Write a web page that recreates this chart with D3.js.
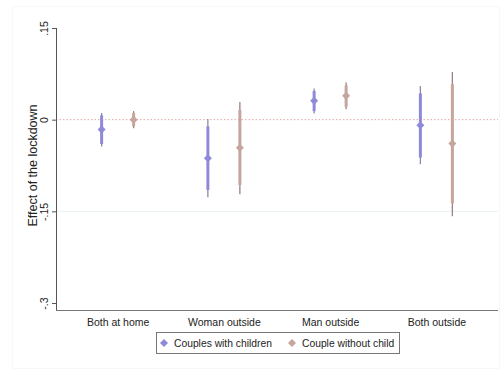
<!DOCTYPE html>
<html>
<head>
<meta charset="utf-8">
<script src="https://cdn.jsdelivr.net/npm/d3@7"></script>
<style>
  body { margin: 0; background: #fff; }
  text { font-family: 'Liberation Sans', Arial, sans-serif; }
</style>
</head>
<body>
<script>
const categories = ['Both at home', 'Woman outside', 'Man outside', 'Both outside']
const seriesNames = ['Couples with children', 'Couple without child']
const seriesColors = ['#8f89d9', '#c5a59c']
const ciColors = ['#8a8aa6', '#948580']

// point estimates
const withChildren = [-0.016, -0.063, 0.031, -0.009]
const withoutChild = [0.000, -0.046, 0.039, -0.039]
// 95% intervals (thin)
const withChildrenLo95 = [-0.044, -0.127, 0.010, -0.073]
const withChildrenHi95 = [0.011, 0.001, 0.051, 0.055]
const withoutChildLo95 = [-0.014, -0.122, 0.017, -0.158]
const withoutChildHi95 = [0.014, 0.029, 0.061, 0.078]
// 90% intervals (thick)
const withChildrenLo90 = [-0.040, -0.115, 0.014, -0.062]
const withChildrenHi90 = [0.007, -0.011, 0.047, 0.043]
const withoutChildLo90 = [-0.011, -0.107, 0.021, -0.137]
const withoutChildHi90 = [0.011, 0.016, 0.056, 0.058]

const yTicks = [0.15, 0, -0.15, -0.3]
const yTickLabels = ['.15', '0', '-.15', '-.3']

const width = 500, height = 369
const margin = { top: 28, right: 2, bottom: 59, left: 56 }

const svg = d3.select('body').append('svg')
    .attr('width', width)
    .attr('height', height)

svg.append('rect')
    .attr('x', 12.5).attr('y', 6.5)
    .attr('width', width - 13).attr('height', height - 7)
    .attr('fill', 'none')
    .attr('stroke', '#f8f8f8')

const y = d3.scaleLinear()
    .domain([-0.3, 0.15])
    .range([303, 28])

const x = d3.scalePoint()
    .domain(categories)
    .range([margin.left, width - margin.right])
    .padding(0.58)

const offset = 16

const series = [
    { name: seriesNames[0], est: withChildren, lo95: withChildrenLo95, hi95: withChildrenHi95, lo90: withChildrenLo90, hi90: withChildrenHi90, dx: -offset },
    { name: seriesNames[1], est: withoutChild, lo95: withoutChildLo95, hi95: withoutChildHi95, lo90: withoutChildLo90, hi90: withoutChildHi90, dx: offset }
]

// grid
svg.append('g')
    .selectAll('line')
    .data([-0.15])
    .enter().append('line')
    .attr('x1', margin.left).attr('x2', width - margin.right)
    .attr('y1', d => y(d)).attr('y2', d => y(d))
    .attr('stroke', '#eaf1f2')
    .attr('stroke-width', 1)

// reference line at zero
svg.append('line')
    .attr('x1', margin.left).attr('x2', width - margin.right)
    .attr('y1', y(0)).attr('y2', y(0))
    .attr('stroke', '#e3a5a5')
    .attr('stroke-width', 1)
    .attr('stroke-dasharray', '1.5,2')

// y axis
const yAxis = svg.append('g')
    .attr('transform', 'translate(' + margin.left + ',0)')
    .call(d3.axisLeft(y).tickValues(yTicks).tickSize(4)
        .tickFormat((d, i) => yTickLabels[i]))
yAxis.select('.domain')
    .attr('stroke', '#555')
    .attr('d', 'M0.5,' + y(0.15) + 'V' + 310.5)
yAxis.selectAll('.tick line').attr('stroke', '#555')
yAxis.selectAll('.tick text')
    .attr('transform', 'rotate(-90)')
    .attr('x', 0)
    .attr('y', -8)
    .attr('dy', 0)
    .attr('text-anchor', 'middle')
    .attr('font-size', 10.5)
    .attr('fill', '#222')
    .style('font-family', "'Liberation Sans', Arial, sans-serif")

// x axis
const xAxis = svg.append('g')
    .attr('transform', 'translate(0,310.5)')
    .call(d3.axisBottom(x).tickSize(0))
xAxis.select('.domain')
    .attr('stroke', '#777')
    .attr('d', 'M' + margin.left + ',0H' + (width - margin.right))
xAxis.selectAll('.tick text')
    .attr('y', 8)
    .attr('font-size', 10.5)
    .attr('fill', '#222')
    .style('font-family', "'Liberation Sans', Arial, sans-serif")

// axis title
svg.append('text')
    .attr('transform', 'translate(37,' + y(-0.075) + ') rotate(-90)')
    .attr('text-anchor', 'middle')
    .attr('font-size', 12.5)
    .attr('fill', '#222')
    .text('Effect of the lockdown')

const diamond = 'M0,-4L4,0L0,4L-4,0Z'

series.forEach((s, si) => {
    const g = svg.append('g')
    const idx = d3.range(categories.length)
    g.selectAll('.ci95')
        .data(idx)
        .enter().append('line')
        .attr('x1', i => x(categories[i]) + s.dx)
        .attr('x2', i => x(categories[i]) + s.dx)
        .attr('y1', i => y(s.lo95[i]))
        .attr('y2', i => y(s.hi95[i]))
        .attr('stroke', ciColors[si])
        .attr('stroke-width', 1.3)
    g.selectAll('.ci90')
        .data(idx)
        .enter().append('line')
        .attr('x1', i => x(categories[i]) + s.dx)
        .attr('x2', i => x(categories[i]) + s.dx)
        .attr('y1', i => y(s.lo90[i]))
        .attr('y2', i => y(s.hi90[i]))
        .attr('stroke', seriesColors[si])
        .attr('stroke-width', 3)
    g.selectAll('path')
        .data(idx)
        .enter().append('path')
        .attr('d', diamond)
        .attr('transform', i => 'translate(' + (x(categories[i]) + s.dx) + ',' + y(s.est[i]) + ')')
        .attr('fill', seriesColors[si])
})

// legend
svg.append('rect')
    .attr('x', 156.5).attr('y', 332.5)
    .attr('width', 243).attr('height', 21)
    .attr('fill', '#fff')
    .attr('stroke', '#777')

const legendX = [164, 292]
seriesNames.forEach((name, i) => {
    svg.append('path')
        .attr('d', diamond)
        .attr('transform', 'translate(' + legendX[i] + ',343)')
        .attr('fill', seriesColors[i])
    svg.append('text')
        .attr('x', legendX[i] + 10)
        .attr('y', 347)
        .attr('font-size', 10.3)
        .attr('fill', '#222')
        .text(name)
})
</script>
</body>
</html>
